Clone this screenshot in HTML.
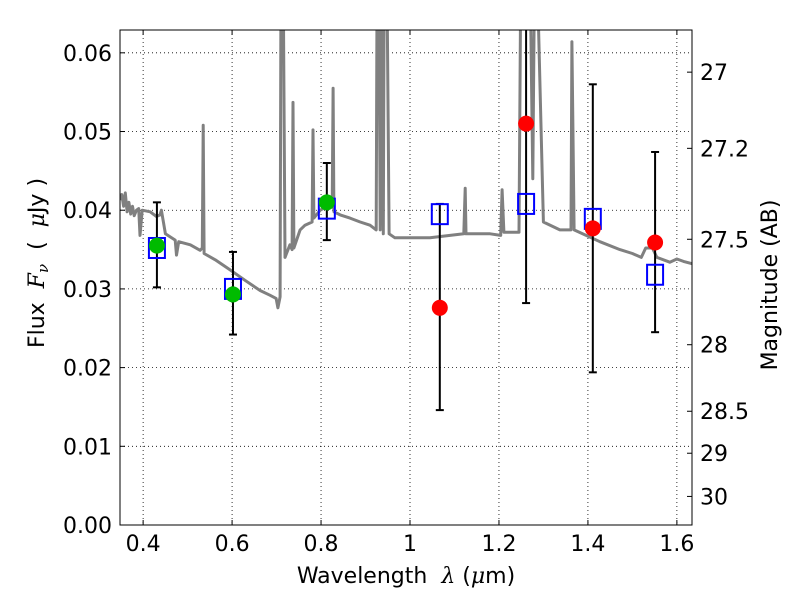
<!DOCTYPE html>
<html><head><meta charset="utf-8"><style>
html,body{margin:0;padding:0;background:#fff;}
svg{display:block;font-family:"DejaVu Sans","Liberation Sans",sans-serif;}
</style></head><body>
<svg id="chart" width="800" height="600" viewBox="0 0 800 600"></svg>
<script>
const xTicks=[0.4,0.6,0.8,1.0,1.2,1.4,1.6];
const xTickLabels=["0.4","0.6","0.8","1","1.2","1.4","1.6"];
const yTicks=[0,0.01,0.02,0.03,0.04,0.05,0.06];
const yTickLabels=["0.00","0.01","0.02","0.03","0.04","0.05","0.06"];
const magTicks=[27,27.2,27.5,28,28.5,29,30];
const magTickLabels=["27","27.2","27.5","28","28.5","29","30"];
const specLam=[0.348,0.352,0.356,0.360,0.364,0.368,0.372,0.376,0.380,0.385,0.390,0.393,0.398,0.416,0.430,0.438,0.441,0.450,0.472,0.475,0.480,0.506,0.528,0.533,0.535,0.537,0.562,0.596,0.629,0.663,0.685,0.699,0.703,0.708,0.710,0.715,0.719,0.730,0.735,0.737,0.739,0.753,0.764,0.780,0.782,0.784,0.798,0.820,0.825,0.827,0.829,0.843,0.865,0.888,0.910,0.924,0.926,0.930,0.933,0.935,0.940,0.942,0.948,0.953,0.966,1.000,1.045,1.090,1.121,1.124,1.126,1.180,1.204,1.207,1.211,1.245,1.249,1.258,1.262,1.270,1.276,1.280,1.286,1.300,1.337,1.362,1.364,1.369,1.404,1.427,1.472,1.500,1.520,1.530,1.545,1.555,1.584,1.600,1.615,1.634];
const specFlux=[0.0413,0.0420,0.0405,0.0422,0.0398,0.0410,0.0395,0.0405,0.0393,0.0400,0.0402,0.0368,0.0400,0.0398,0.0392,0.0394,0.0400,0.0370,0.0362,0.0343,0.0360,0.0356,0.0349,0.0352,0.0508,0.0345,0.0337,0.0324,0.0311,0.0298,0.0292,0.0288,0.0276,0.0290,0.07,0.07,0.0340,0.0356,0.0350,0.0537,0.0352,0.0375,0.0381,0.0385,0.0502,0.0390,0.0400,0.0407,0.0404,0.0555,0.0398,0.0394,0.0390,0.0385,0.0381,0.0375,0.07,0.07,0.0375,0.07,0.0370,0.07,0.07,0.0370,0.0365,0.0365,0.0365,0.0368,0.0370,0.0428,0.0370,0.0370,0.0368,0.0426,0.0372,0.0372,0.07,0.07,0.07,0.07,0.0440,0.07,0.07,0.0385,0.0375,0.0375,0.0614,0.0375,0.0366,0.0360,0.0350,0.0345,0.0340,0.0352,0.0352,0.0340,0.0334,0.0338,0.0335,0.0332];
const greenLam=[0.431,0.602,0.813];
const greenFlux=[0.0355,0.0293,0.0410];
const greenLo=[0.0302,0.0242,0.0362];
const greenHi=[0.0410,0.0347,0.0460];
const redLam=[1.067,1.261,1.411,1.551];
const redFlux=[0.0276,0.0510,0.0377,0.0359];
const redLo=[0.0146,0.0282,0.0194,0.0245];
const redHi=[0.0408,0.0650,0.0560,0.0474];
const modelLam=[0.431,0.602,0.813,1.067,1.261,1.411,1.551];
const modelFlux=[0.0352,0.0300,0.0402,0.0395,0.0408,0.0389,0.0318];

const L=120,R=692,T=30,B=525;
const xMin=0.348,xMax=1.634,yMin=0,yMax=0.0629;
const sx=v=>L+(v-xMin)/(xMax-xMin)*(R-L);
const sy=v=>B-(v-yMin)/(yMax-yMin)*(B-T);
const svg=document.getElementById('chart');
const NS='http://www.w3.org/2000/svg';
function mk(tag,attrs,parent){const e=document.createElementNS(NS,tag);for(const k in attrs)e.setAttribute(k,attrs[k]);(parent||svg).appendChild(e);return e;}

const defs=mk('defs',{});
const cp=mk('clipPath',{id:'clip'},defs);
mk('rect',{x:L,y:T,width:R-L,height:B-T},cp);

const grid=mk('g',{});


xTicks.forEach(t=>mk('line',{x1:sx(t),x2:sx(t),y1:T,y2:B,stroke:'#000','stroke-width':0.8,'stroke-dasharray':'1,3'},grid));
yTicks.forEach(t=>mk('line',{x1:L,x2:R,y1:sy(t),y2:sy(t),stroke:'#000','stroke-width':0.8,'stroke-dasharray':'1,3'},grid));

const plot=mk('g',{'clip-path':'url(#clip)'});
let d='';
specLam.forEach((l,i)=>{d+=(i?'L':'M')+sx(l).toFixed(1)+','+sy(specFlux[i]).toFixed(1);});
const sp=mk('path',{d:d,fill:'none',stroke:'#808080','stroke-width':3,'stroke-linejoin':'round'},plot);



function errbar(x,lo,hi,name){
  const g=mk('g',{},plot);
  
  
  mk('line',{x1:sx(x),x2:sx(x),y1:sy(lo),y2:sy(hi),stroke:'#000','stroke-width':2},g);
  mk('line',{x1:sx(x)-4,x2:sx(x)+4,y1:sy(lo),y2:sy(lo),stroke:'#000','stroke-width':2},g);
  mk('line',{x1:sx(x)-4,x2:sx(x)+4,y1:sy(hi),y2:sy(hi),stroke:'#000','stroke-width':2},g);
}
greenLam.forEach((l,i)=>errbar(l,greenLo[i],greenHi[i],'green-errorbar'));
redLam.forEach((l,i)=>errbar(l,redLo[i],redHi[i],'red-errorbar'));
modelLam.forEach((l,i)=>{
  const r=mk('rect',{x:sx(l)-8,y:sy(modelFlux[i])-10,width:16,height:20,fill:'none',stroke:'#0000ff','stroke-width':2},plot);
  
  
});
greenLam.forEach((l,i)=>{
  const c=mk('circle',{cx:sx(l),cy:sy(greenFlux[i]),r:8,fill:'#00bb00'},plot);
  
  
});
redLam.forEach((l,i)=>{
  const c=mk('circle',{cx:sx(l),cy:sy(redFlux[i]),r:8,fill:'#ff0000'},plot);
  
  
});

const fr=mk('rect',{x:L,y:T,width:R-L,height:B-T,fill:'none',stroke:'#000','stroke-width':1});



const FS=22;
const xa=mk('g',{});


xTicks.forEach((t,i)=>{
  mk('line',{x1:sx(t),x2:sx(t),y1:B,y2:B-5,stroke:'#000'},xa);
  mk('line',{x1:sx(t),x2:sx(t),y1:T,y2:T+5,stroke:'#000'},xa);
  const tx=mk('text',{x:sx(t),y:B+26,'font-size':FS,'text-anchor':'middle'},xa);
  tx.textContent=xTickLabels[i];
});
const xt=mk('text',{x:406,y:583,'font-size':FS,'text-anchor':'middle'});


xt.innerHTML='Wavelength\u00a0\u00a0<tspan font-style="italic" font-family="DejaVu Serif, serif">λ</tspan>\u00a0(<tspan font-style="italic" font-family="DejaVu Serif, serif">μ</tspan>m)';

const ya=mk('g',{});


yTicks.forEach((t,i)=>{
  mk('line',{x1:L,x2:L+5,y1:sy(t),y2:sy(t),stroke:'#000'},ya);
  const tx=mk('text',{x:L-8,y:sy(t)+8,'font-size':FS,'text-anchor':'end'},ya);
  tx.textContent=yTickLabels[i];
});
const yt=mk('text',{x:0,y:0,'font-size':FS,'text-anchor':'middle',transform:'translate(44,263) rotate(-90)'});


yt.innerHTML='Flux\u00a0\u00a0<tspan font-style="italic" font-family="DejaVu Serif, serif">F<tspan font-size="15" dy="4">ν</tspan></tspan><tspan dy="-4">\u00a0\u00a0(\u00a0\u00a0</tspan><tspan font-style="italic" font-family="DejaVu Serif, serif">μ</tspan>Jy\u00a0)';

const ma=mk('g',{});


magTicks.forEach((m,i)=>{
  const f=Math.pow(10,(23.9-m)/2.5);
  const y=sy(f);
  mk('line',{x1:R,x2:R-5,y1:y,y2:y,stroke:'#000'},ma);
  const tx=mk('text',{x:R+8,y:y+8,'font-size':FS},ma);
  tx.textContent=magTickLabels[i];
});
const mt=mk('text',{x:0,y:0,'font-size':FS,'text-anchor':'middle',transform:'translate(777,285) rotate(-90)'});


mt.textContent='Magnitude (AB)';
</script>
</body></html>
